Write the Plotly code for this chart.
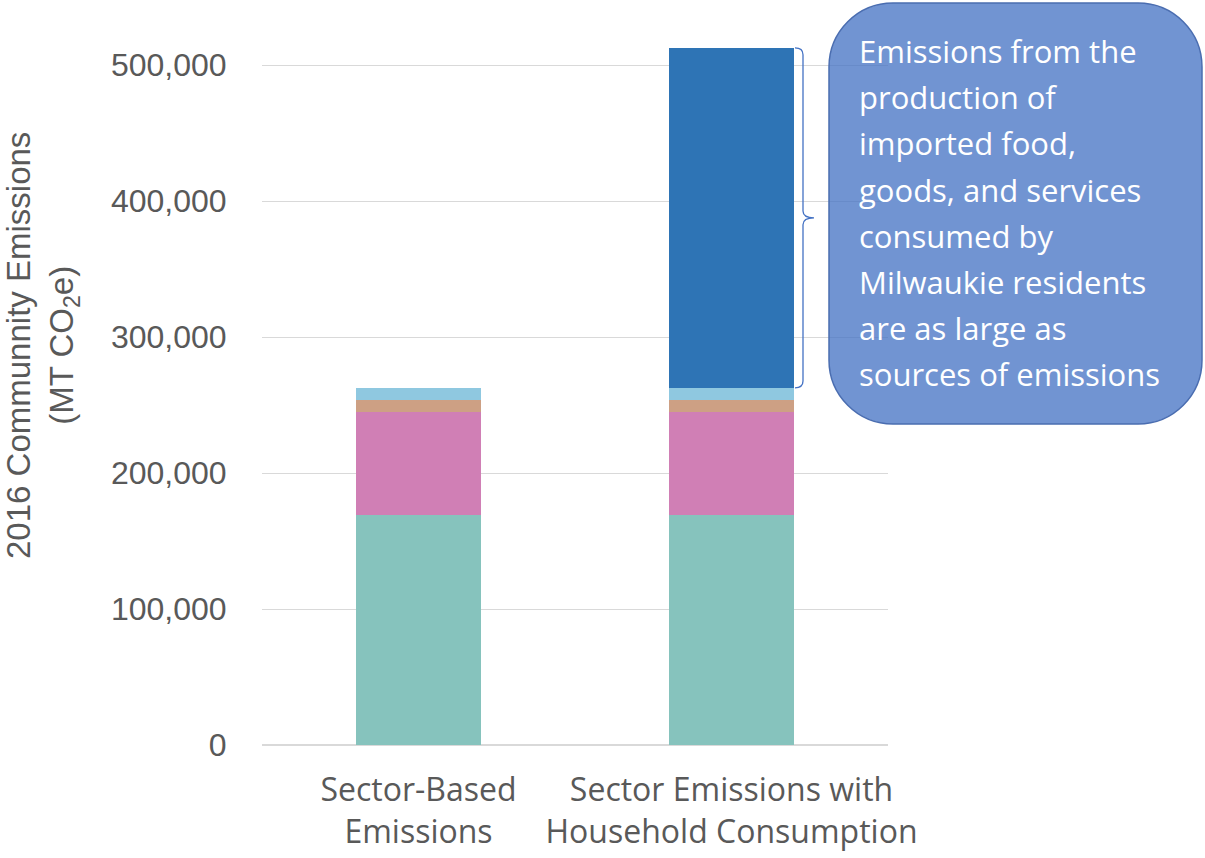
import plotly.graph_objects as go

categories = ["Sector-Based<br>Emissions", "Sector Emissions with<br>Household Consumption"]
series_names = ["Teal sector", "Pink sector", "Tan sector", "Light blue sector", "Household consumption"]
series_values = {
    "Teal sector": [169000, 169000],
    "Pink sector": [76000, 76000],
    "Tan sector": [8800, 8800],
    "Light blue sector": [8800, 8800],
    "Household consumption": [0, 250000],
}
series_colors = ["#86C3BD", "#D07FB5", "#CDA084", "#8FC8E0", "#2E74B5"]
y_ticks = [0, 100000, 200000, 300000, 400000, 500000]
y_ticklabels = ["0", "100,000", "200,000", "300,000", "400,000", "500,000"]
callout_lines = [
    "Emissions from the",
    "production of",
    "imported food,",
    "goods, and services",
    "consumed by",
    "Milwaukie residents",
    "are as large as",
    "sources of emissions",
]

W, H = 1205, 858
L, R, T, B = 262, 888, 38, 745


def px(xp):
    return (xp - L) / (R - L)


def py(yp):
    return (B - yp) / (B - T)


fig = go.Figure()
for name, color in zip(series_names, series_colors):
    fig.add_trace(go.Bar(
        x=[0, 1], y=series_values[name], name=name,
        marker=dict(color=color, line=dict(width=0)), width=0.4,
    ))

# brace next to the household consumption segment
base = sum(series_values[n][1] for n in series_names[:-1])
top = base + series_values["Household consumption"][1]
mid = (base + top) / 2
d = 5000
x0, x1, x2 = px(795), px(803), px(814)
brace = (f"M {x0},{top} Q {x1},{top} {x1},{top-d} L {x1},{mid+d} "
         f"Q {x1},{mid} {x2},{mid} Q {x1},{mid} {x1},{mid-d} "
         f"L {x1},{base+d} Q {x1},{base} {x0},{base}")
fig.add_shape(type="path", path=brace, xref="paper", yref="y",
              line=dict(color="#4472C4", width=1.3))

# rounded callout box
bx0, bx1, by0, by1, r = 829, 1202, 3, 424, 64
k = 0.5523 * r
pts = (
    f"M {px(bx0 + r)},{py(by0)} L {px(bx1 - r)},{py(by0)} "
    f"C {px(bx1 - r + k)},{py(by0)} {px(bx1)},{py(by0 + r - k)} {px(bx1)},{py(by0 + r)} "
    f"L {px(bx1)},{py(by1 - r)} "
    f"C {px(bx1)},{py(by1 - r + k)} {px(bx1 - r + k)},{py(by1)} {px(bx1 - r)},{py(by1)} "
    f"L {px(bx0 + r)},{py(by1)} "
    f"C {px(bx0 + r - k)},{py(by1)} {px(bx0)},{py(by1 - r + k)} {px(bx0)},{py(by1 - r)} "
    f"L {px(bx0)},{py(by0 + r)} "
    f"C {px(bx0)},{py(by0 + r - k)} {px(bx0 + r - k)},{py(by0)} {px(bx0 + r)},{py(by0)} Z"
)
fig.add_shape(type="path", path=pts, xref="paper", yref="paper",
              fillcolor="rgba(68,114,196,0.76)", line=dict(color="#4A6DB0", width=1.5))

for i, line in enumerate(callout_lines):
    fig.add_annotation(
        text=line, x=px(857), y=py(51 + i * 46.2), xref="paper", yref="paper",
        xanchor="left", yanchor="middle", showarrow=False, align="left",
        font=dict(family="Open Sans", size=31, color="white"),
    )

# y axis title
fig.add_annotation(
    text="2016 Communnity Emissions<br>(MT CO<sub>2</sub>e)",
    x=px(42), y=py(346), xref="paper", yref="paper",
    xanchor="center", yanchor="middle", textangle=-90, showarrow=False,
    font=dict(family="Liberation Sans", size=33, color="#595959"),
)

fig.update_layout(
    width=W, height=H, autosize=False,
    margin=dict(l=L, r=W - R, t=T, b=H - B, pad=0),
    barmode="stack", showlegend=False,
    plot_bgcolor="white", paper_bgcolor="white",
    bargap=0.6,
)
fig.update_xaxes(
    tickmode="array", tickvals=[0, 1], ticktext=categories,
    range=[-0.5, 1.5], showgrid=False, showline=False, zeroline=False,
    tickfont=dict(family="Open Sans", size=32, color="#595959"),
    ticks="outside", ticklen=17, tickcolor="rgba(0,0,0,0)",
    automargin=False,
)
fig.update_yaxes(
    range=[0, (B - T) / 1.36 * 1000], tickmode="array",
    tickvals=y_ticks, ticktext=y_ticklabels,
    showgrid=True, gridcolor="#D9D9D9", gridwidth=1,
    zeroline=True, zerolinecolor="#D9D9D9", zerolinewidth=1.5, showline=False,
    tickfont=dict(family="Liberation Sans", size=32, color="#595959"),
    ticks="outside", ticklen=28, tickcolor="rgba(0,0,0,0)",
    automargin=False,
)

fig.write_html("out.html")
